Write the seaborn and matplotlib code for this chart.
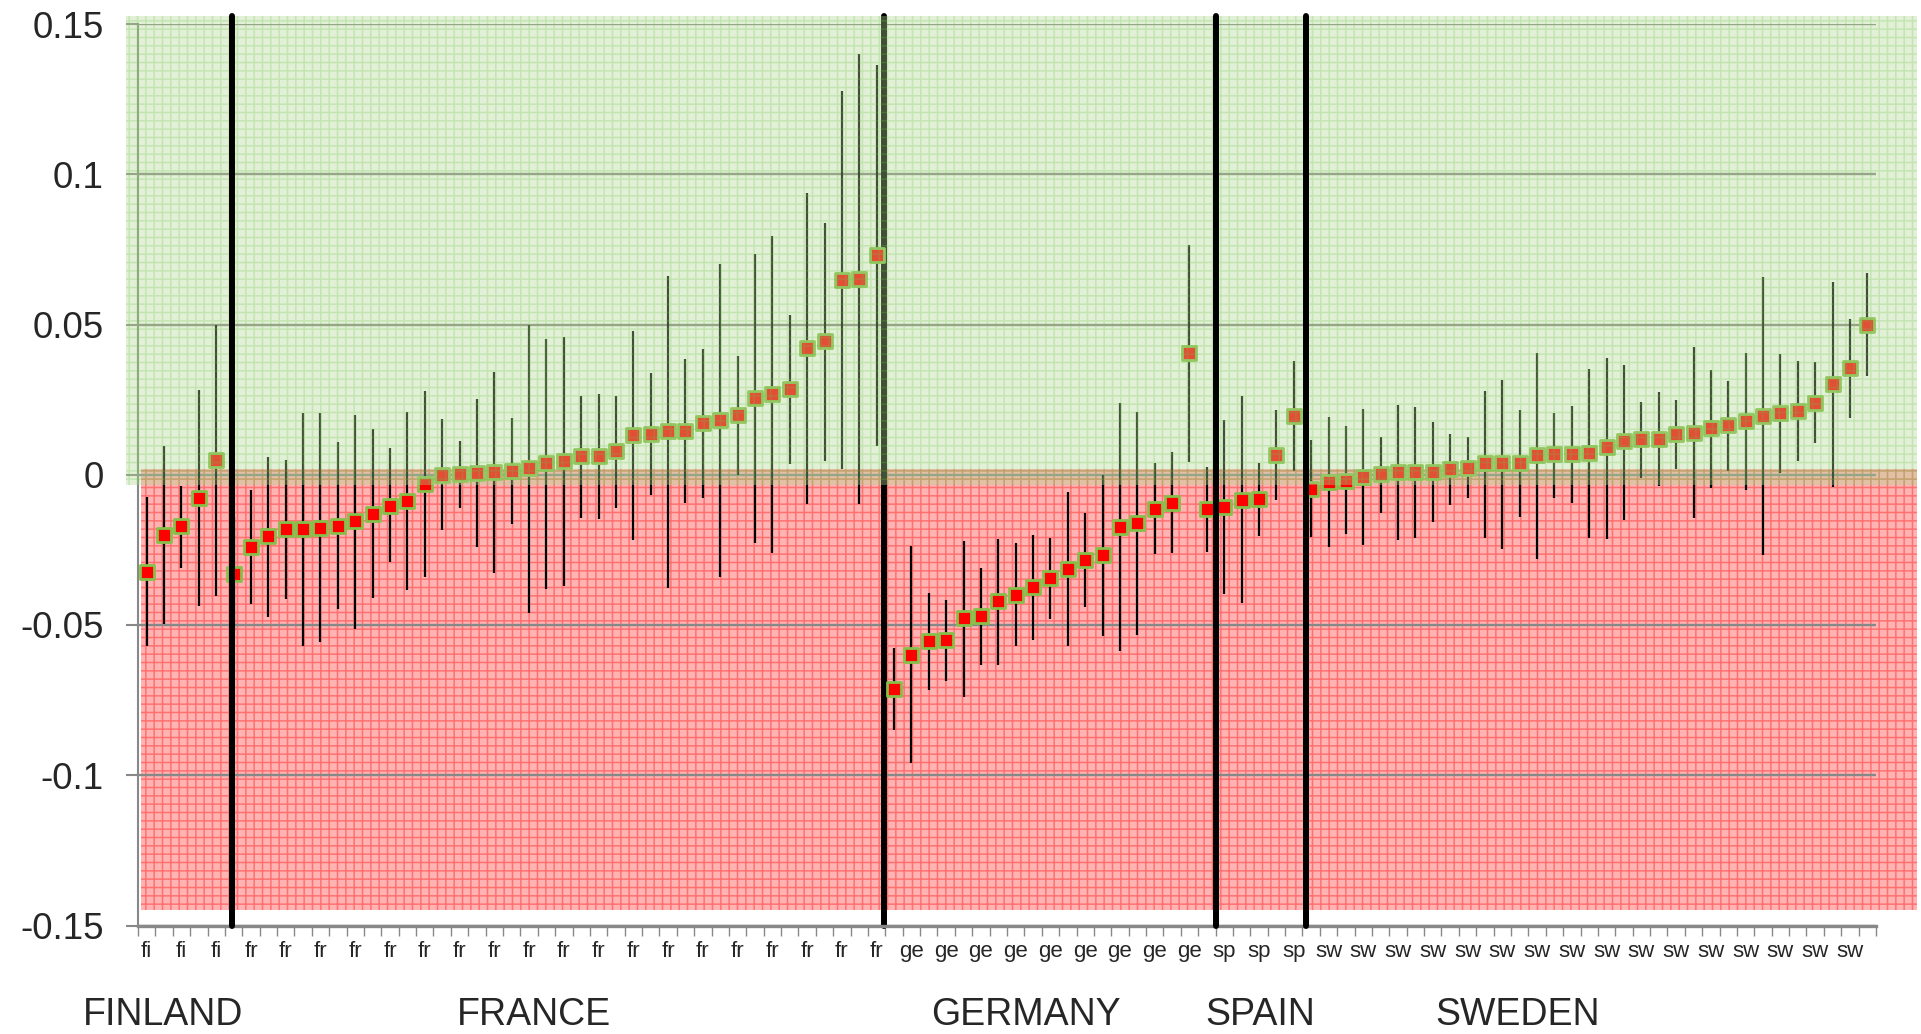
import numpy as np
import pandas as pd
import matplotlib
matplotlib.use("Agg")
import matplotlib.pyplot as plt
import seaborn as sns
from matplotlib.patches import Rectangle

# ---------------- data ----------------
countries = ["FINLAND", "FRANCE", "GERMANY", "SPAIN", "SWEDEN"]
codes = ["fi", "fr", "ge", "sp", "sw"]

fi_est = [-0.0323, -0.0200, -0.0172, -0.0078, 0.0048]
fi_lo = [-0.0571, -0.0497, -0.0311, -0.0437, -0.0404]
fi_hi = [-0.0075, 0.0096, -0.0036, 0.0283, 0.0498]

fr_est = [-0.0331, -0.0240, -0.0205, -0.0182, -0.0180, -0.0177, -0.0169, -0.0154,
          -0.0129, -0.0103, -0.0086, -0.0031, 0.0000, 0.0002, 0.0007, 0.0010,
          0.0013, 0.0022, 0.0038, 0.0046, 0.0061, 0.0061, 0.0078, 0.0131,
          0.0136, 0.0146, 0.0147, 0.0171, 0.0182, 0.0199, 0.0257, 0.0268,
          0.0286, 0.0422, 0.0444, 0.0647, 0.0651, 0.0730]
fr_lo = [-0.0520, -0.0430, -0.0475, -0.0414, -0.0570, -0.0558, -0.0447, -0.0512,
         -0.0409, -0.0290, -0.0384, -0.0339, -0.0184, -0.0111, -0.0240, -0.0326,
         -0.0164, -0.0459, -0.0379, -0.0371, -0.0144, -0.0147, -0.0111, -0.0217,
         -0.0068, -0.0376, -0.0094, -0.0078, -0.0339, 0.0000, -0.0227, -0.0260,
         0.0036, -0.0098, 0.0045, 0.0018, -0.0098, 0.0096]
fr_hi = [-0.0140, -0.0050, 0.0060, 0.0050, 0.0207, 0.0204, 0.0108, 0.0199,
         0.0151, 0.0088, 0.0210, 0.0280, 0.0184, 0.0113, 0.0253, 0.0341,
         0.0190, 0.0498, 0.0452, 0.0459, 0.0263, 0.0268, 0.0263, 0.0478,
         0.0338, 0.0661, 0.0386, 0.0417, 0.0702, 0.0396, 0.0735, 0.0795,
         0.0531, 0.0937, 0.0838, 0.1276, 0.1399, 0.1363]

ge_est = [-0.0712, -0.0599, -0.0553, -0.0550, -0.0478, -0.0469, -0.0421, -0.0401,
          -0.0374, -0.0344, -0.0315, -0.0283, -0.0268, -0.0175, -0.0161, -0.0113,
          -0.0093, 0.0406]
ge_lo = [-0.0848, -0.0960, -0.0715, -0.0685, -0.0740, -0.0634, -0.0632, -0.0571,
         -0.0550, -0.0480, -0.0570, -0.0440, -0.0536, -0.0588, -0.0533, -0.0265,
         -0.0262, 0.0043]
ge_hi = [-0.0575, -0.0238, -0.0392, -0.0416, -0.0222, -0.0310, -0.0215, -0.0228,
         -0.0199, -0.0212, -0.0056, -0.0126, 0.0000, 0.0240, 0.0210, 0.0038,
         0.0075, 0.0765]

sp_est = [-0.0114, -0.0108, -0.0084, -0.0081, 0.0066, 0.0194]
sp_lo = [-0.0257, -0.0397, -0.0427, -0.0204, -0.0083, 0.0013]
sp_hi = [0.0025, 0.0182, 0.0262, 0.0038, 0.0215, 0.0379]

sw_est = [-0.0046, -0.0023, -0.0020, -0.0008, 0.0002, 0.0008, 0.0008, 0.0008,
          0.0018, 0.0022, 0.0038, 0.0038, 0.0038, 0.0065, 0.0068, 0.0068,
          0.0071, 0.0091, 0.0111, 0.0118, 0.0118, 0.0134, 0.0139, 0.0154,
          0.0164, 0.0179, 0.0195, 0.0204, 0.0212, 0.0240, 0.0301, 0.0354, 0.0498]
sw_lo = [-0.0207, -0.0240, -0.0197, -0.0233, -0.0127, -0.0217, -0.0210, -0.0157,
         -0.0101, -0.0078, -0.0210, -0.0247, -0.0141, -0.0281, -0.0078, -0.0094,
         -0.0210, -0.0214, -0.0149, -0.0012, -0.0038, 0.0018, -0.0144, -0.0045,
         0.0013, -0.0051, -0.0268, 0.0005, 0.0045, 0.0104, -0.0041, 0.0189, 0.0328]
sw_hi = [0.0116, 0.0192, 0.0162, 0.0219, 0.0127, 0.0232, 0.0225, 0.0174,
         0.0137, 0.0124, 0.0280, 0.0315, 0.0214, 0.0406, 0.0204, 0.0230,
         0.0353, 0.0389, 0.0366, 0.0242, 0.0276, 0.0248, 0.0424, 0.0349,
         0.0313, 0.0406, 0.0657, 0.0401, 0.0379, 0.0376, 0.0642, 0.0518, 0.0671]

# vertical separator lines (category-axis positions)
separators = [5.9, 43.4, 62.5, 67.7]

ytick_values = [0.15, 0.1, 0.05, 0.0, -0.05, -0.1, -0.15]
ytick_labels = ["0.15", "0.1", "0.05", "0", "-0.05", "-0.1", "-0.15"]

# ---------------- table ----------------
groups = [(codes[0], fi_est, fi_lo, fi_hi), (codes[1], fr_est, fr_lo, fr_hi),
          (codes[2], ge_est, ge_lo, ge_hi), (codes[3], sp_est, sp_lo, sp_hi),
          (codes[4], sw_est, sw_lo, sw_hi)]
frames = [pd.DataFrame({"code": c, "est": e, "lo": l, "hi": h}) for c, e, l, h in groups]
df = pd.concat(frames, ignore_index=True)
df["pos"] = np.arange(1, len(df) + 1)
n = len(df)

# ---------------- figure ----------------
sns.set_style("white")
plt.rcParams["font.family"] = ["Liberation Sans", "DejaVu Sans"]
plt.rcParams["hatch.linewidth"] = 1.1

W, H = 1921, 1034
fig = plt.figure(figsize=(W / 100, H / 100), dpi=100)
ax = fig.add_axes([138 / W, 1 - 925.5 / H, (1876 - 138) / W, (925.5 - 24) / H])


def px_rect(x0, y0, x1, y1, **kw):
    r = Rectangle((x0 / W, 1 - y1 / H), (x1 - x0) / W, (y1 - y0) / H,
                  transform=fig.transFigure, clip_on=False, **kw)
    ax.add_patch(r)
    return r


# red (negative) background, below the data
px_rect(141, 469, 1917, 910, facecolor=(1.0, 0.70, 0.70), edgecolor=(1.0, 0.38, 0.38, 0.8),
        hatch="++", linewidth=0, zorder=0.2)

# separator behind green overlay
gray = "#888888"
ax.axvline(separators[1], ymin=0, ymax=1.009, color="black", lw=4.3, zorder=1.0, clip_on=False)

# error bars and markers
ax.vlines(df["pos"], df["lo"], df["hi"], colors="black", linewidth=1.6, zorder=2)
sns.scatterplot(data=df, x="pos", y="est", marker="s", s=105, color="#ff0000",
                edgecolor="#86c04a", linewidth=2.0, ax=ax, zorder=3, legend=False)

# green (positive) overlay drawn above the data
px_rect(126, 16, 1917, 485, facecolor=(176 / 255, 216 / 255, 144 / 255, 0.37),
        edgecolor=(110 / 255, 195 / 255, 70 / 255, 0.25), hatch="++", linewidth=0, zorder=4)

for s in (separators[0], separators[2], separators[3]):
    ax.axvline(s, ymin=0, ymax=1.009, color="black", lw=4.3, zorder=5, clip_on=False)

# axes styling
ax.set_xlim(0.5, n + 0.5)
ax.set_ylim(-0.15, 0.15)
ax.set_axisbelow(True)
ax.yaxis.grid(True, color=gray, linewidth=1.7)
ax.xaxis.grid(False)
ax.patch.set_visible(False)

ax.set_yticks(ytick_values)
ax.set_yticklabels(ytick_labels)
ax.tick_params(axis="y", direction="out", length=8.6, width=1.5, color=gray,
               labelsize=26.5, pad=16, left=True)

odd = df.iloc[::2]
ax.set_xticks(odd["pos"])
ax.set_xticklabels(odd["code"])
ax.set_xticks(np.arange(0.5, n + 1.0, 1.0), minor=True)
ax.tick_params(axis="x", which="major", length=0, labelsize=16, pad=11)
ax.tick_params(axis="x", which="minor", direction="out", length=7, width=1.0, color=gray, bottom=True)
ax.set_xlabel("")
ax.set_ylabel("")

for side in ("top", "right"):
    ax.spines[side].set_visible(False)
ax.spines["left"].set_color(gray)
ax.spines["left"].set_linewidth(1.5)
ax.spines["bottom"].set_color(gray)
ax.spines["bottom"].set_linewidth(2.4)

# country names
country_x = [83, 457, 931, 1205, 1435]
for name, xp in zip(countries, country_x):
    fig.text(xp / W, 1 - 1025 / H, name, fontsize=27, ha="left", va="baseline")

fig.savefig("out.png", dpi=100)
